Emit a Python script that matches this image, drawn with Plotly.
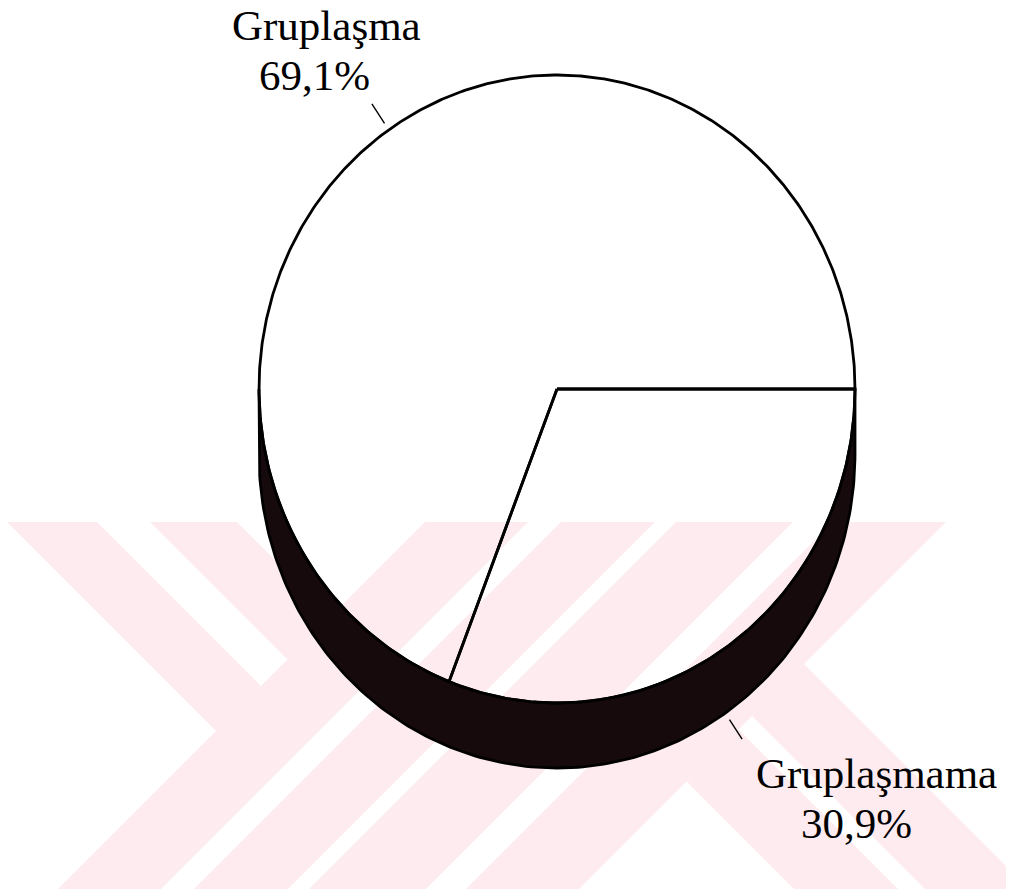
import numpy as np
import plotly.graph_objects as go

# ---------------- data (clockwise from 3 o'clock) ----------------
labels = ["Gruplaşmama", "Gruplaşma"]
values = [30.9, 69.1]
pct_text = ["30,9%", "69,1%"]

# ---------------- layout constants (pixels) ----------------
W, H = 1014, 889
OFF = 8                    # page body margin compensation
CX, CY = 557, 389          # centre of top face
RX, RY = 298, 314          # radii of top face
DEPTH = 65                 # thickness of the 3-D side
SIDE_COLOR = "#170a0d"
LINE_W = 2.8
FONT = dict(family="Liberation Serif, Times New Roman, serif", size=43, color="black")

# label line positions (centre x, middle y) per slice
label_pos = {
    "Gruplaşma": [(326, 25), (314, 75)],
    "Gruplaşmama": [(876, 773), (856, 823)],
}

# watermark (light pink stripes) described by bands in s=x+y / d=x-y
WM_COLOR = "#fdebf0"
WM_TOP, WM_BOT = 522, 900


def ell(theta_deg, cy=CY, f=1.0):
    t = np.radians(np.asarray(theta_deg, dtype=float))
    return CX + f * RX * np.cos(t), cy + f * RY * np.sin(t)


fig = go.Figure()

# ---- watermark shapes ----
def poly_path(pts):
    return "M " + " L ".join(f"{x},{y}" for x, y in pts) + " Z"

wm_polys = []
for d0, d1 in [(-515, -425), (-372, -285)]:
    s = 947
    wm_polys.append([(d0 + WM_TOP, WM_TOP), (d1 + WM_TOP, WM_TOP),
                     ((s + d1) / 2, (s - d1) / 2), ((s + d0) / 2, (s - d0) / 2)])
for s0, s1 in [(947, 1050), (1083, 1177), (1198, 1315), (1355, 1468)]:
    wm_polys.append([(s0 - WM_TOP, WM_TOP), (s1 - WM_TOP, WM_TOP),
                     (s1 - WM_BOT, WM_BOT), (s0 - WM_BOT, WM_BOT)])
for d0, d1 in [(-95, 9), (36, 140)]:
    s = 1468
    wm_polys.append([((s + d0) / 2, (s - d0) / 2), ((s + d1) / 2, (s - d1) / 2),
                     (d1 + WM_BOT, WM_BOT), (d0 + WM_BOT, WM_BOT)])

shapes = [dict(type="path", path=poly_path(p), xref="x", yref="y",
               fillcolor=WM_COLOR, line=dict(width=0), layer="below")
          for p in wm_polys]

# ---- 3-D side (dark band) ----
th = np.linspace(0, 180, 181)
tx, ty = ell(th)
bx, by = ell(th[::-1], cy=CY + DEPTH)
side_x = np.concatenate([tx, bx, tx[:1]])
side_y = np.concatenate([ty, by, ty[:1]])
fig.add_trace(go.Scatter(x=side_x, y=side_y, mode="lines", fill="toself",
                         fillcolor=SIDE_COLOR,
                         line=dict(color="black", width=LINE_W),
                         hoverinfo="skip", showlegend=False))

# ---- top-face slices ----
total = sum(values)
start = 0.0
mids = []
for lab, v in zip(labels, values):
    end = start + v / total * 360.0
    t = np.linspace(start, end, max(int(end - start) * 2, 4))
    ax, ay = ell(t)
    px = np.concatenate([[CX], ax, [CX]])
    py = np.concatenate([[CY], ay, [CY]])
    fig.add_trace(go.Scatter(x=px, y=py, mode="lines",
                             line=dict(color="black", width=LINE_W),
                             name=lab, hoverinfo="skip", showlegend=False))
    mids.append((start + end) / 2)
    start = end

# ---- leader lines and labels ----
annotations = []
for lab, pct, m in zip(labels, pct_text, mids):
    base_cy = CY + DEPTH if np.sin(np.radians(m)) > 0 else CY
    x0, y0 = ell(m, cy=base_cy, f=1.025)
    x1, y1 = ell(m, cy=base_cy, f=1.10)
    fig.add_trace(go.Scatter(x=[float(x0), float(x1)], y=[float(y0), float(y1)],
                             mode="lines", line=dict(color="black", width=1.4),
                             hoverinfo="skip", showlegend=False))
    for txt, (px, py) in zip([lab, pct], label_pos[lab]):
        annotations.append(dict(x=px, y=py, xref="x", yref="y", text=txt,
                                showarrow=False, xanchor="center", yanchor="middle",
                                font=FONT))

fig.update_layout(
    width=W, height=H,
    margin=dict(l=0, r=0, t=0, b=0),
    paper_bgcolor="white", plot_bgcolor="white",
    showlegend=False,
    xaxis=dict(range=[OFF, W + OFF], visible=False, fixedrange=True),
    yaxis=dict(range=[H + OFF, OFF], visible=False, fixedrange=True),
    shapes=shapes,
    annotations=annotations,
)

fig.write_html("out.html")
